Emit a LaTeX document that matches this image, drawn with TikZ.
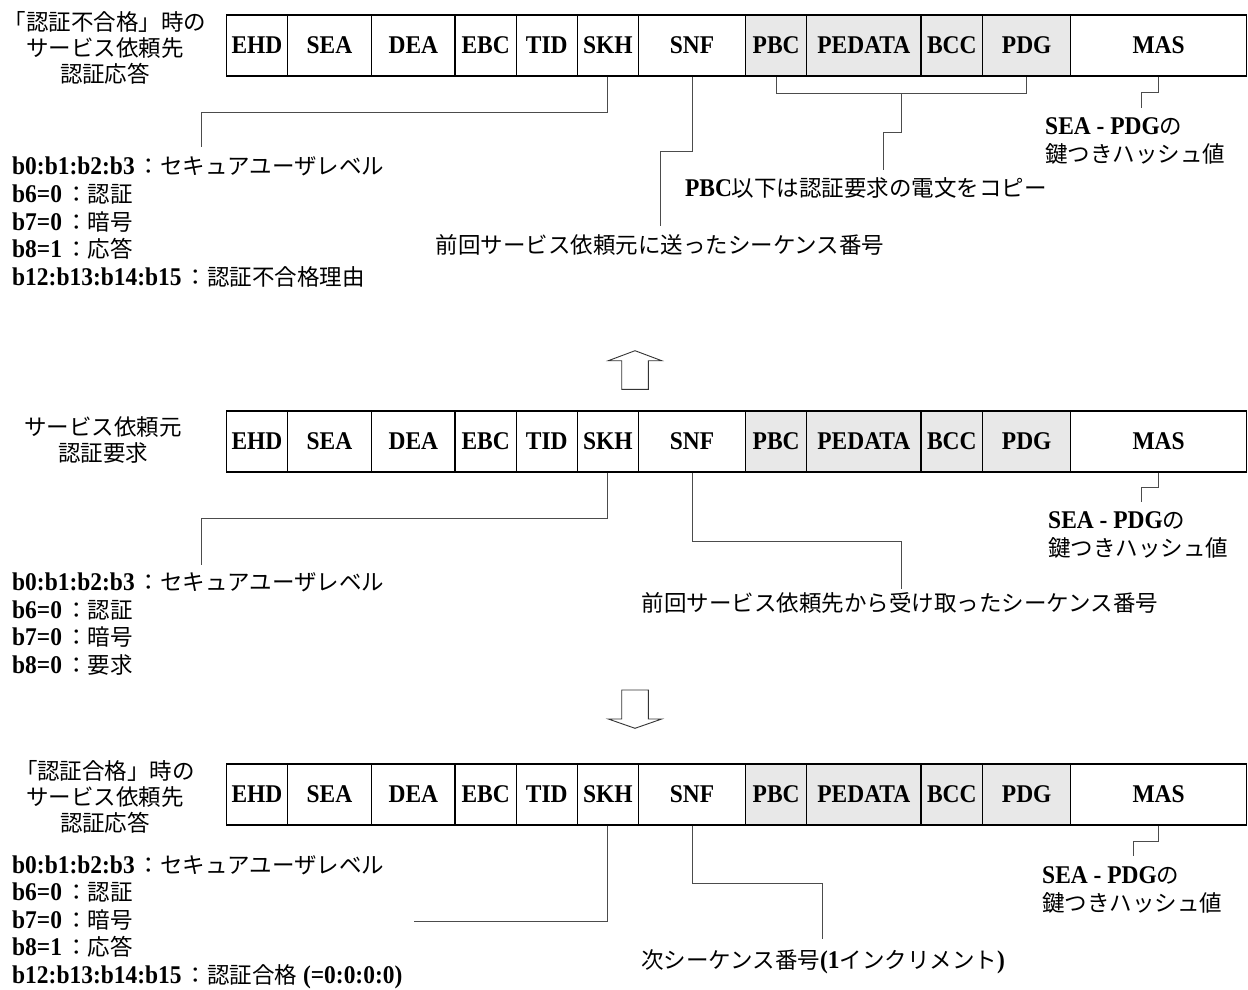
\documentclass[tikz,border=0pt]{standalone}
\usepackage{fontspec}
\setmainfont{Liberation Serif}[FakeStretch=0.92]
\newfontfamily\jpf{Noto Sans CJK JP}
\usetikzlibrary{calc}
\newcommand\J[1]{{\jpf\mdseries\fontsize{22.5}{27.6}\selectfont #1}}
\newcommand\C{\hspace{3pt}}
\newcommand\fieldrow[2]{%
  \foreach \nm/\xa/\xb/\st in {EHD/226.7/287.3/fieldwhite, SEA/287.3/371.7/fieldwhite,
      DEA/371.7/455/fieldwhite, EBC/455/516.3/fieldwhite, TID/516.3/577.3/fieldwhite,
      SKH/577.3/638.3/fieldwhite, SNF/638.3/745.7/fieldwhite, PBC/745.7/806.7/fieldgray,
      PEDATA/806.7/921/fieldgray, BCC/921/982.7/fieldgray, PDG/982.7/1070.7/fieldgray,
      MAS/1070.7/1246.5/fieldwhite}{%
    \node[cell,\st,minimum width={\xb-\xa}] (#1\nm) at ({(\xa+\xb)/2},{#2+30.5}) {\nm};
  }}
\begin{document}
\begin{tikzpicture}[x=1pt,y=-1pt,
  cell/.style={draw=black, line width=1.1pt, rectangle, inner sep=0pt, minimum height=61pt,
    font=\fontsize{25.5}{27.6}\selectfont\bfseries},
  fieldwhite/.style={fill=white},
  fieldgray/.style={fill=black!9},
  conn/.style={draw=black!70, line width=0.9pt},
  lbl/.style={inner sep=0pt, font=\fontsize{25.5}{27.6}\selectfont\bfseries},
  lst/.style={inner sep=0pt, align=left, anchor=west, font=\fontsize{25.5}{27.6}\selectfont\bfseries},
  jtitle/.style={inner sep=0pt, align=center, font=\jpf\fontsize{22.5}{26}\selectfont},
  hollow/.style={draw=black!80, line width=0.9pt, fill=white}
]
\useasboundingbox (0,0) rectangle (1248,990);

% ---------- top row ----------
\fieldrow{t}{15}
\node[jtitle] (ttitle) at (105,48) {「認証不合格」時の\\サービス依頼先\\認証応答};
\node[lst] (tlist) at (12,222) {b0:b1:b2:b3\C\J{：セキュアユーザレベル}\\
  b6=0\C\J{：認証}\\ b7=0\C\J{：暗号}\\ b8=1\C\J{：応答}\\ b12:b13:b14:b15\C\J{：認証不合格理由}};
\node[lbl] (tlbl1) at (660,245) {\J{前回サービス依頼元に送ったシーケンス番号}};
\node[lbl] (tlbl2) at (866,188) {PBC\J{以下は認証要求の電文をコピー}};
\node[lst] (tlbl3) at (1045,141) {SEA - PDG\J{の}\\\J{鍵つきハッシュ値}};

\coordinate (tA) at (201,147);
\draw[conn] (tSKH.south) -- ++(0,36) -| (tA);
\coordinate (tB) at (660,226);
\draw[conn] (tSNF.south) -- ++(0,75) -| (tB);
\draw[conn] (tPBC.south) -- ++(0,17) -| (tPDG.south);
\coordinate (tC) at (883,170);
\draw[conn] ($(tPBC.south)!0.5!(tPDG.south)+(0,17)$) -- ++(0,39) -| (tC);
\coordinate (tD) at (1141,108);
\draw[conn] (tMAS.south) -- ++(0,16) -| (tD);

% ---------- up arrow ----------
\draw[hollow] (621.7,389.3) -- (621.7,360.7) -- (608.3,360.7) -- (635,350.7) -- (661.7,360.7)
  -- (648.3,360.7) -- (648.3,389.3) -- cycle;

% ---------- middle row ----------
\fieldrow{m}{411}
\node[jtitle] (mtitle) at (103,440) {サービス依頼元\\認証要求};
\node[lst] (mlist) at (12,624) {b0:b1:b2:b3\C\J{：セキュアユーザレベル}\\
  b6=0\C\J{：認証}\\ b7=0\C\J{：暗号}\\ b8=0\C\J{：要求}};
\node[lbl] (mlbl1) at (900,603) {\J{前回サービス依頼先から受け取ったシーケンス番号}};
\node[lst] (mlbl3) at (1048,535) {SEA - PDG\J{の}\\\J{鍵つきハッシュ値}};

\coordinate (mA) at (201,565);
\draw[conn] (mSKH.south) -- ++(0,46) -| (mA);
\coordinate (mB) at (901,589);
\draw[conn] (mSNF.south) -- ++(0,69) -| (mB);
\coordinate (mD) at (1141,502);
\draw[conn] (mMAS.south) -- ++(0,15) -| (mD);

% ---------- down arrow ----------
\draw[hollow] (621.7,690) -- (621.7,719) -- (608.3,719) -- (635,728.3) -- (661.7,719)
  -- (648.3,719) -- (648.3,690) -- cycle;

% ---------- bottom row ----------
\fieldrow{b}{764}
\node[jtitle] (btitle) at (105,797) {「認証合格」時の\\サービス依頼先\\認証応答};
\node[lst] (blist) at (12,922) {b0:b1:b2:b3\C\J{：セキュアユーザレベル}\\
  b6=0\C\J{：認証}\\ b7=0\C\J{：暗号}\\ b8=1\C\J{：応答}\\ b12:b13:b14:b15\C\J{：認証合格} (=0:0:0:0)};
\node[lbl] (blbl1) at (823,962) {\J{次シーケンス番号}(1\J{インクリメント})};
\node[lst] (blbl3) at (1042,890) {SEA - PDG\J{の}\\\J{鍵つきハッシュ値}};

\coordinate (bA) at (414,921.7);
\draw[conn] (bSKH.south) |- (bA);
\coordinate (bB) at (822.7,939);
\draw[conn] (bSNF.south) -- ++(0,57.7) -| (bB);
\coordinate (bD) at (1133.3,856);
\draw[conn] (bMAS.south) -- ++(0,15.7) -| (bD);
\end{tikzpicture}
\end{document}
